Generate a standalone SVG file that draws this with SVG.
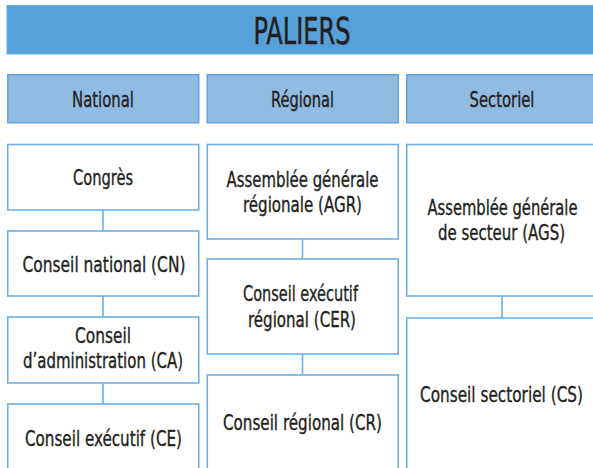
<svg xmlns="http://www.w3.org/2000/svg" width="593" height="468" viewBox="0 0 593 468">
<style>
text{font-family:"DejaVu Sans Condensed","DejaVu Sans","Liberation Sans",sans-serif;font-stretch:condensed;fill:#231f20;stroke:#231f20;stroke-width:0.35;text-anchor:middle;font-size:21px}
.title{font-size:37px;stroke-width:0.5}
.band{fill:#56a1d9;stroke:#6aaee3;stroke-width:1}
.head{fill:#90bbe3;stroke:#62a4dc;stroke-width:1.5}
.box{fill:#ffffff;stroke:#6db0e6;stroke-width:1.6}
.con{stroke:#6db0e6;stroke-width:1.6;fill:none}
</style>
<rect width="593" height="468" fill="#ffffff"/>
<g id="paliers">
<rect class="band" x="7" y="5.5" width="588" height="48.5"/>
<text class="title" x="302" y="44" textLength="97" lengthAdjust="spacingAndGlyphs">PALIERS</text>
</g>
<g id="h-national">
<rect class="head" x="7.75" y="74.75" width="191" height="48"/>
<text x="103" y="107" textLength="62" lengthAdjust="spacingAndGlyphs">National</text>
</g>
<g id="h-regional">
<rect class="head" x="207.25" y="74.75" width="191" height="48"/>
<text x="302.5" y="107" textLength="63" lengthAdjust="spacingAndGlyphs">Régional</text>
</g>
<g id="h-sectoriel">
<rect class="head" x="406.75" y="74.75" width="188" height="48"/>
<text x="502" y="107" textLength="65" lengthAdjust="spacingAndGlyphs">Sectoriel</text>
</g>
<g id="connectors">
<line class="con" x1="103" y1="210" x2="103" y2="231"/>
<line class="con" x1="103" y1="296" x2="103" y2="317"/>
<line class="con" x1="103" y1="383" x2="103" y2="404"/>
<line class="con" x1="302.5" y1="239" x2="302.5" y2="259"/>
<line class="con" x1="302.5" y1="354" x2="302.5" y2="375"/>
<line class="con" x1="502" y1="296" x2="502" y2="318"/>
</g>
<g id="congres">
<rect class="box" x="7.75" y="144.5" width="191" height="65.5"/>
<text x="103" y="185" textLength="60" lengthAdjust="spacingAndGlyphs">Congrès</text>
</g>
<g id="cn">
<rect class="box" x="7.75" y="231" width="191" height="65"/>
<text x="104" y="272" textLength="163" lengthAdjust="spacingAndGlyphs">Conseil national (CN)</text>
</g>
<g id="ca">
<rect class="box" x="7.75" y="317" width="191" height="66"/>
<text x="103" y="343" textLength="56" lengthAdjust="spacingAndGlyphs">Conseil</text>
<text x="103" y="368" textLength="160" lengthAdjust="spacingAndGlyphs">d’administration (CA)</text>
</g>
<g id="ce">
<rect class="box" x="7.75" y="404" width="191" height="80"/>
<text x="103.5" y="446" textLength="157" lengthAdjust="spacingAndGlyphs">Conseil exécutif (CE)</text>
</g>
<g id="agr">
<rect class="box" x="207.25" y="144.5" width="191" height="94.5"/>
<text x="302.5" y="187" textLength="152" lengthAdjust="spacingAndGlyphs">Assemblée générale</text>
<text x="302.5" y="212" textLength="119" lengthAdjust="spacingAndGlyphs">régionale (AGR)</text>
</g>
<g id="cer">
<rect class="box" x="207.25" y="259" width="191" height="95"/>
<text x="300.5" y="301" textLength="115" lengthAdjust="spacingAndGlyphs">Conseil exécutif</text>
<text x="302" y="327" textLength="108" lengthAdjust="spacingAndGlyphs">régional (CER)</text>
</g>
<g id="cr">
<rect class="box" x="207.25" y="375" width="191" height="110"/>
<text x="302.5" y="430" textLength="159" lengthAdjust="spacingAndGlyphs">Conseil régional (CR)</text>
</g>
<g id="ags">
<rect class="box" x="406.75" y="144.5" width="188" height="151.5"/>
<text x="502.5" y="215" textLength="150" lengthAdjust="spacingAndGlyphs">Assemblée générale</text>
<text x="501.5" y="240" textLength="127" lengthAdjust="spacingAndGlyphs">de secteur (AGS)</text>
</g>
<g id="cs">
<rect class="box" x="406.75" y="318" width="188" height="170"/>
<text x="501.5" y="402" textLength="163" lengthAdjust="spacingAndGlyphs">Conseil sectoriel (CS)</text>
</g>
</svg>
